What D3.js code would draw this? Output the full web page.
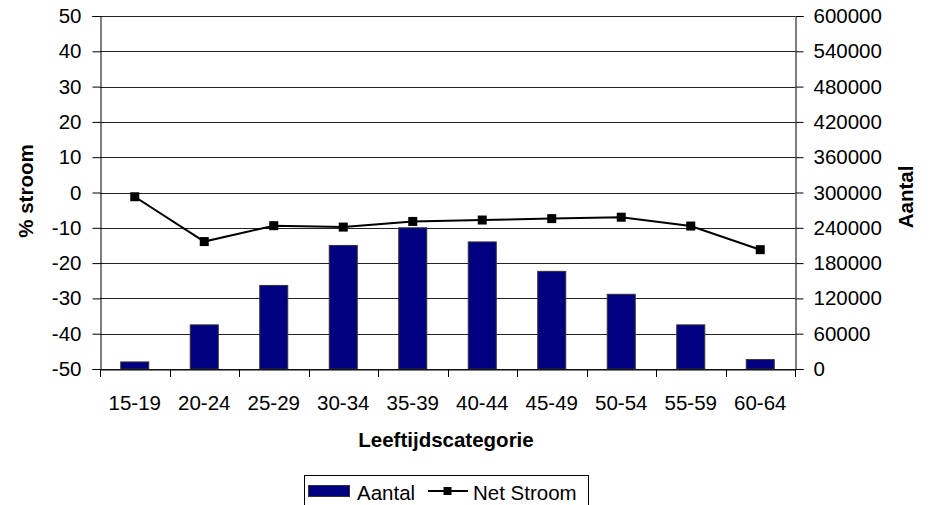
<!DOCTYPE html>
<html><head><meta charset="utf-8">
<script src="https://cdn.jsdelivr.net/npm/d3@7"></script>
<style>body{margin:0;background:#fff;font-family:"Liberation Sans",Arial,sans-serif}</style>
</head><body><svg id="c" width="931" height="505"></svg>
<script>
const categories = ["15-19","20-24","25-29","30-34","35-39","40-44","45-49","50-54","55-59","60-64"];
const aantal = [12000, 75000, 142000, 210000, 240000, 216000, 166000, 127000, 75000, 16000];
const netStroom = [-1.2, -13.9, -9.4, -9.8, -8.2, -7.8, -7.4, -7.0, -9.5, -16.2];
const leftTicks = [-50,-40,-30,-20,-10,0,10,20,30,40,50];
const rightTicks = [0,60000,120000,180000,240000,300000,360000,420000,480000,540000,600000];

const FS = 20.5;
const svg = d3.select("#c");
const L = 100, R = 795, T = 16, B = 369;
const x = d3.scaleBand().domain(categories).range([L, R]);
const yL = d3.scaleLinear().domain([-50, 50]).range([B, T]);
const yR = d3.scaleLinear().domain([0, 600000]).range([B, T]);

// grid
svg.append("g").selectAll("line").data(leftTicks).join("line")
  .attr("x1", L).attr("x2", R).attr("y1", d => Math.round(yL(d)) + 0.5).attr("y2", d => Math.round(yL(d)) + 0.5)
  .attr("stroke", "#222").attr("stroke-width", 1);

// bars
const bw = 28;
svg.append("g").selectAll("rect").data(aantal).join("rect")
  .attr("x", (d, i) => x(categories[i]) + x.bandwidth() / 2 - bw / 2)
  .attr("width", bw)
  .attr("y", d => yR(d))
  .attr("height", d => B - yR(d))
  .attr("fill", "#000080").attr("stroke", "#333").attr("stroke-width", 1);

// axes
const axL = d3.axisLeft(yL).tickValues(leftTicks).tickSize(8).tickPadding(11).tickFormat(d => String(d));
const gL = svg.append("g").attr("transform", `translate(${L + 0.5},0)`).call(axL);
const axR = d3.axisRight(yR).tickValues(rightTicks).tickSize(8).tickPadding(10).tickFormat(d => String(d));
const gR = svg.append("g").attr("transform", `translate(${R + 0.5},0)`).call(axR);
const axB = d3.axisBottom(x).tickSize(0).tickPadding(26);
const gB = svg.append("g").attr("transform", `translate(0,${B + 0.5})`).call(axB);
// bottom tick marks at band boundaries
svg.append("g").selectAll("line").data(d3.range(categories.length + 1)).join("line")
  .attr("x1", i => Math.round(L + i * x.step()) + 0.5).attr("x2", i => Math.round(L + i * x.step()) + 0.5)
  .attr("y1", B).attr("y2", B + 8).attr("stroke", "#000");
[gL, gR, gB].forEach(g => {
  g.selectAll("path").attr("stroke", "#000");
  g.selectAll("line").attr("stroke", "#000");
  g.selectAll("text").attr("font-family", "Liberation Sans, Arial, sans-serif").attr("font-size", FS).attr("fill", "#000");
});

// line
const lineGen = d3.line().x((d, i) => x(categories[i]) + x.bandwidth() / 2).y(d => yL(d));
svg.append("path").datum(netStroom).attr("d", lineGen).attr("fill", "none").attr("stroke", "#000").attr("stroke-width", 2);
svg.append("g").selectAll("rect").data(netStroom).join("rect")
  .attr("x", (d, i) => x(categories[i]) + x.bandwidth() / 2 - 4.5)
  .attr("y", d => yL(d) - 4.5).attr("width", 9).attr("height", 9).attr("fill", "#000");

// titles
svg.append("text").attr("x", 446).attr("y", 446.5).attr("text-anchor", "middle")
  .attr("font-weight", "bold").attr("font-size", FS).text("Leeftijdscategorie");
svg.append("text").attr("transform", `translate(33,191) rotate(-90)`).attr("text-anchor", "middle")
  .attr("font-weight", "bold").attr("font-size", FS).text("% stroom");
svg.append("text").attr("transform", `translate(913,197) rotate(-90)`).attr("text-anchor", "middle")
  .attr("font-weight", "bold").attr("font-size", FS).text("Aantal");

// legend
const lg = svg.append("g");
lg.append("rect").attr("x", 304.5).attr("y", 475.5).attr("width", 284).attr("height", 40).attr("fill", "#fff").attr("stroke", "#000");
lg.append("rect").attr("x", 308.5).attr("y", 485.5).attr("width", 41).attr("height", 11).attr("fill", "#000080").attr("stroke", "#333");
lg.append("text").attr("x", 357).attr("y", 500).attr("font-size", FS).text("Aantal");
lg.append("line").attr("x1", 428).attr("x2", 468).attr("y1", 491).attr("y2", 491).attr("stroke", "#000").attr("stroke-width", 2);
lg.append("rect").attr("x", 443.5).attr("y", 487).attr("width", 8).attr("height", 8).attr("fill", "#000");
lg.append("text").attr("x", 473).attr("y", 500).attr("font-size", FS).text("Net Stroom");
</script></body></html>
